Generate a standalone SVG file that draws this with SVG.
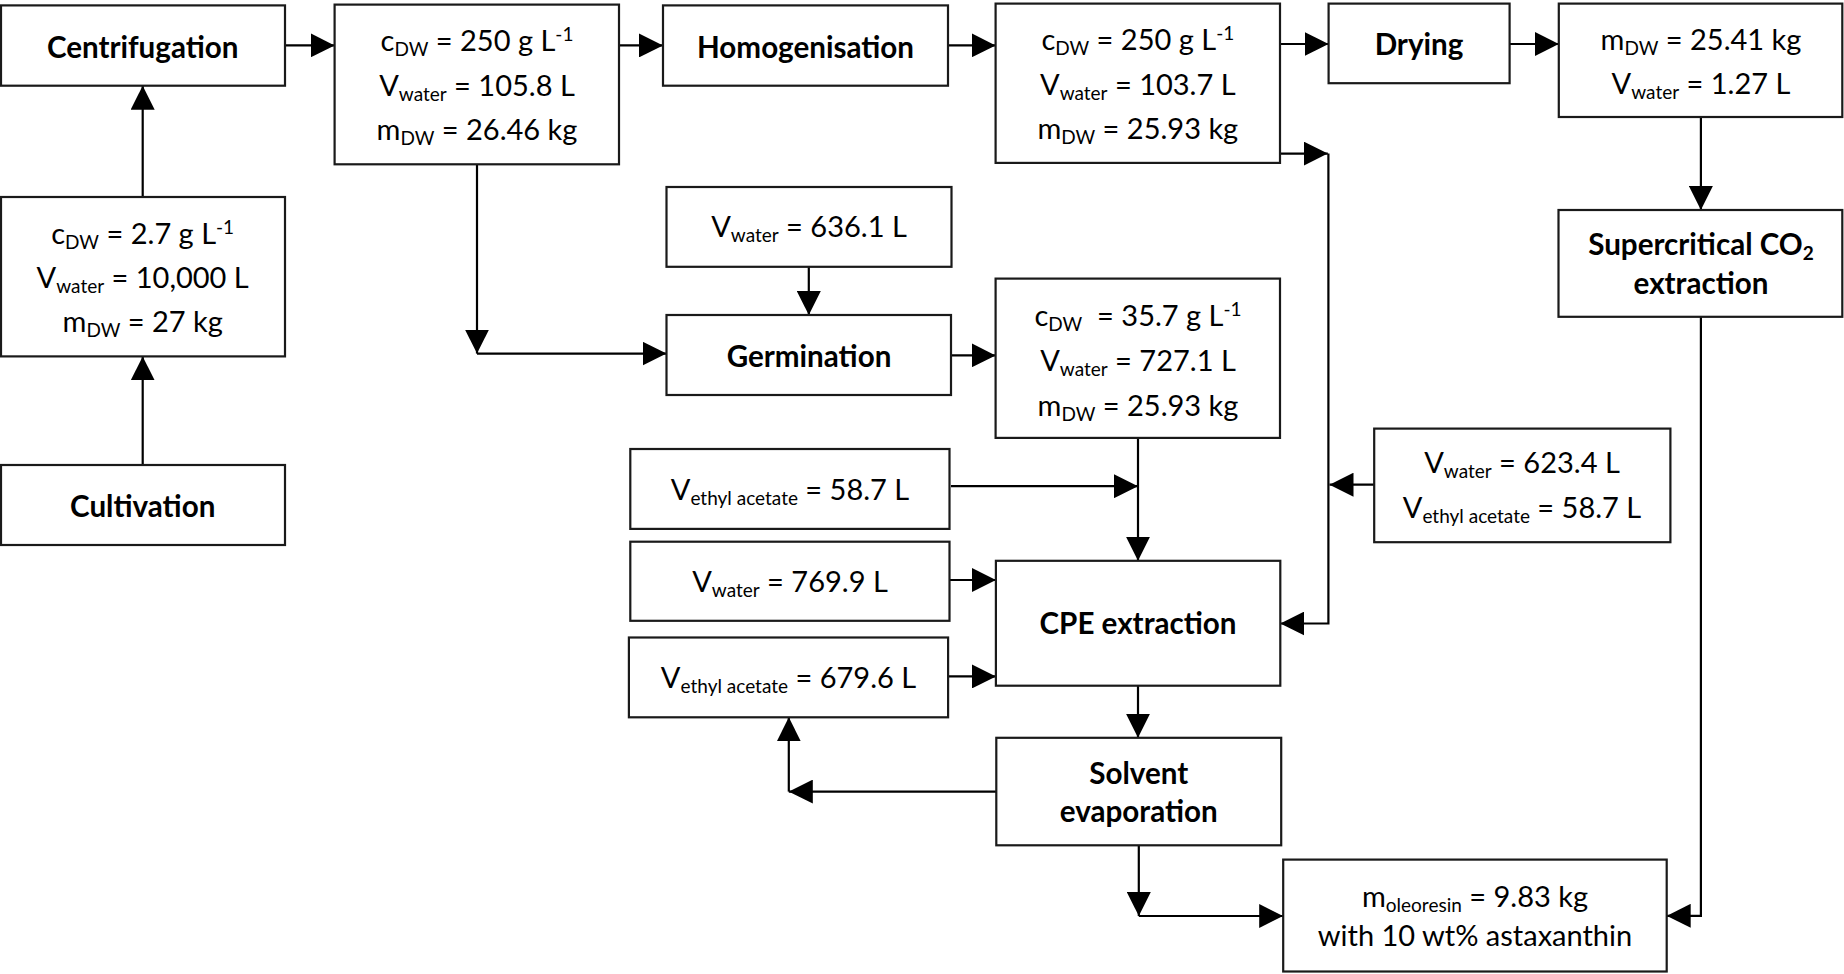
<svg xmlns="http://www.w3.org/2000/svg" width="1844" height="974" viewBox="0 0 1844 974">
<defs>
<marker id="ah" markerUnits="userSpaceOnUse" markerWidth="24" markerHeight="24" refX="24" refY="12" orient="auto" viewBox="0 0 24 24"><path d="M0,0 L24,12 L0,24 z" fill="#000"/></marker>
<style>
.b{fill:#fff;stroke:#1a1a1a;stroke-width:2.2}
.t{font-family:Lato,"Liberation Sans",sans-serif;font-size:29px;fill:#000;text-anchor:middle}
.h{font-family:Lato,"Liberation Sans",sans-serif;font-size:29.6px;font-weight:bold;fill:#000;text-anchor:middle}
.s{font-size:19px}
.c path{fill:none;stroke:#000;stroke-width:2.2;marker-end:url(#ah)}
</style>
</defs>
<rect width="1844" height="974" fill="#fff"/>
<g id="connectors" class="c">
<path d="M142.7,465 V356.4"/>
<path d="M142.7,197 V85.7"/>
<path d="M285,45.4 H334.6"/>
<path d="M619,45.4 H663"/>
<path d="M948,45.4 H995.6"/>
<path d="M1280,44 H1328.6"/>
<path d="M1509.5,44 H1558.8"/>
<path d="M1700.9,117 V210"/>
<path d="M1700.9,316.8 V915.8 H1666.7"/>
<path d="M477,164.3 V353.6"/>
<path d="M477,353.6 H666.5"/>
<path d="M808.8,266.8 V315"/>
<path d="M951,355.4 H995.6"/>
<path d="M1138,437.9 V560.8"/>
<path d="M951,486.2 H1138"/>
<path d="M949.5,580 H995.9"/>
<path d="M948,676.4 H996"/>
<path d="M1280,153.6 H1327.8"/>
<path d="M1328.4,153.6 V623.5 H1280.3"/>
<path d="M1374.2,484.7 H1329.5"/>
<path d="M1138,685.7 V737.8"/>
<path d="M996.3,791.6 H788.8"/>
<path d="M788.8,791.6 V717.3"/>
<path d="M1138.8,845.3 V916"/>
<path d="M1138.8,916 H1283.2"/>
</g>
<g id="cultivation"><rect class="b" x="1" y="465" width="284" height="80"/><text class="h" x="142.7" y="517">Cultivation</text></g>
<g id="culture"><rect class="b" x="1" y="197" width="284" height="159.4"/>
<text class="t" x="142.7" y="244">c<tspan class="s" dy="5">DW</tspan><tspan dy="-5"> = 2.7 g L</tspan><tspan class="s" dy="-10">-1</tspan></text>
<text class="t" x="142.7" y="288">V<tspan class="s" dy="5">water</tspan><tspan dy="-5"> = 10,000 L</tspan></text>
<text class="t" x="142.7" y="332">m<tspan class="s" dy="5">DW</tspan><tspan dy="-5"> = 27 kg</tspan></text></g>
<g id="centrifugation"><rect class="b" x="1" y="5.4" width="284" height="80.3"/><text class="h" x="142.7" y="58">Centrifugation</text></g>
<g id="concentrate"><rect class="b" x="334.6" y="4.6" width="284.4" height="159.7"/>
<text class="t" x="477" y="51">c<tspan class="s" dy="5">DW</tspan><tspan dy="-5"> = 250 g L</tspan><tspan class="s" dy="-10">-1</tspan></text>
<text class="t" x="477" y="96">V<tspan class="s" dy="5">water</tspan><tspan dy="-5"> = 105.8 L</tspan></text>
<text class="t" x="477" y="140">m<tspan class="s" dy="5">DW</tspan><tspan dy="-5"> = 26.46 kg</tspan></text></g>
<g id="homogenisation"><rect class="b" x="663" y="5.4" width="285" height="80.3"/><text class="h" x="805.5" y="57.5">Homogenisation</text></g>
<g id="homogenate"><rect class="b" x="995.6" y="3.6" width="284.4" height="159.3"/>
<text class="t" x="1137.8" y="50">c<tspan class="s" dy="5">DW</tspan><tspan dy="-5"> = 250 g L</tspan><tspan class="s" dy="-10">-1</tspan></text>
<text class="t" x="1137.8" y="95">V<tspan class="s" dy="5">water</tspan><tspan dy="-5"> = 103.7 L</tspan></text>
<text class="t" x="1137.8" y="139">m<tspan class="s" dy="5">DW</tspan><tspan dy="-5"> = 25.93 kg</tspan></text></g>
<g id="drying"><rect class="b" x="1328.6" y="3.6" width="181" height="79.6"/><text class="h" x="1419" y="55">Drying</text></g>
<g id="dried"><rect class="b" x="1558.8" y="3.6" width="283.5" height="113.4"/>
<text class="t" x="1701" y="50">m<tspan class="s" dy="5">DW</tspan><tspan dy="-5"> = 25.41 kg</tspan></text>
<text class="t" x="1701" y="94">V<tspan class="s" dy="5">water</tspan><tspan dy="-5"> = 1.27 L</tspan></text></g>
<g id="supercritical"><rect class="b" x="1558.5" y="210" width="283.8" height="106.8"/>
<text class="h" x="1701" y="255">Supercritical CO<tspan class="s" dy="5">2</tspan></text>
<text class="h" x="1701" y="294">extraction</text></g>
<g id="water636"><rect class="b" x="666.5" y="187" width="285" height="79.8"/>
<text class="t" x="809" y="237">V<tspan class="s" dy="5">water</tspan><tspan dy="-5"> = 636.1 L</tspan></text></g>
<g id="germination"><rect class="b" x="666.5" y="315" width="284.5" height="80"/><text class="h" x="809" y="367">Germination</text></g>
<g id="germinated"><rect class="b" x="995.6" y="278.6" width="284.4" height="159.3"/>
<text class="t" x="1138" y="326" xml:space="preserve">c<tspan class="s" dy="5">DW</tspan><tspan dy="-5">  = 35.7 g L</tspan><tspan class="s" dy="-10">-1</tspan></text>
<text class="t" x="1138" y="371">V<tspan class="s" dy="5">water</tspan><tspan dy="-5"> = 727.1 L</tspan></text>
<text class="t" x="1138" y="416">m<tspan class="s" dy="5">DW</tspan><tspan dy="-5"> = 25.93 kg</tspan></text></g>
<g id="ethyl587"><rect class="b" x="630.3" y="449" width="319.2" height="79.9"/>
<text class="t" x="790" y="500">V<tspan class="s" dy="5">ethyl acetate</tspan><tspan dy="-5"> = 58.7 L</tspan></text></g>
<g id="water7699"><rect class="b" x="630.3" y="541.7" width="319.2" height="79.1"/>
<text class="t" x="790" y="592">V<tspan class="s" dy="5">water</tspan><tspan dy="-5"> = 769.9 L</tspan></text></g>
<g id="ethyl6796"><rect class="b" x="628.9" y="637.5" width="319.2" height="79.8"/>
<text class="t" x="788.5" y="688">V<tspan class="s" dy="5">ethyl acetate</tspan><tspan dy="-5"> = 679.6 L</tspan></text></g>
<g id="cpe"><rect class="b" x="995.9" y="560.8" width="284.4" height="124.9"/><text class="h" x="1138" y="634">CPE extraction</text></g>
<g id="solvent"><rect class="b" x="996.3" y="737.8" width="284.9" height="107.5"/>
<text class="h" x="1138.8" y="783.5">Solvent</text>
<text class="h" x="1138.8" y="822">evaporation</text></g>
<g id="recycle"><rect class="b" x="1374.2" y="428.6" width="296.2" height="113.6"/>
<text class="t" x="1522" y="473">V<tspan class="s" dy="5">water</tspan><tspan dy="-5"> = 623.4 L</tspan></text>
<text class="t" x="1522" y="518">V<tspan class="s" dy="5">ethyl acetate</tspan><tspan dy="-5"> = 58.7 L</tspan></text></g>
<g id="oleoresin"><rect class="b" x="1283.2" y="859.6" width="383.5" height="111.9"/>
<text class="t" x="1475" y="907">m<tspan class="s" dy="5">oleoresin</tspan><tspan dy="-5"> = 9.83 kg</tspan></text>
<text class="t" x="1475" y="946">with 10 wt% astaxanthin</text></g>
</svg>
